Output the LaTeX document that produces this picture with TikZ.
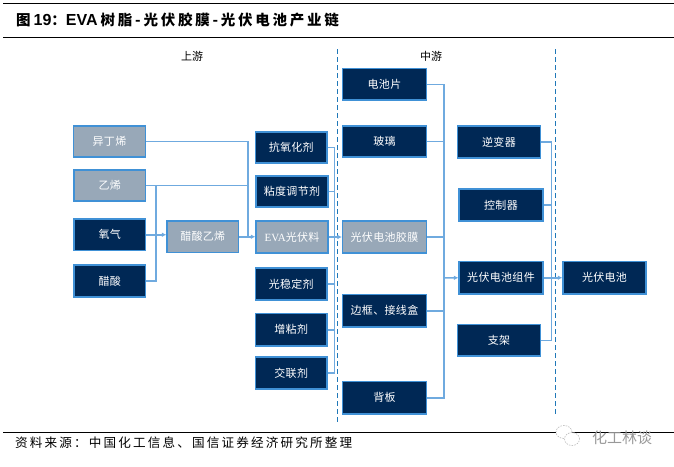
\documentclass[tikz,border=0pt]{standalone}
\usepackage{fontspec}
\setmainfont{Noto Sans CJK SC}
\newfontfamily\latinbold{Liberation Sans}[BoldFont={Liberation Sans Bold}]
\newfontfamily\latinserif{Liberation Serif}
\usetikzlibrary{arrows.meta}
\definecolor{navy}{HTML}{002855}
\definecolor{slate}{HTML}{98A8B8}
\definecolor{edge}{HTML}{4091D6}
\definecolor{wire}{HTML}{6FAADF}
\definecolor{divider}{HTML}{1F78B8}
\tikzset{
  base/.style={draw=edge,line width=1.1pt,inner sep=0pt,text=white,font=\fontsize{11}{12}\selectfont\addfontfeatures{LetterSpace=3}},
  darkbox/.style={base,fill=navy},
  greybox/.style={base,fill=slate},
  wirepath/.style={draw=wire,line width=1.5pt},
  arrowpath/.style={wirepath,-{Latex[length=4.5pt,width=4.5pt]}},
  rulepath/.style={draw=black,line width=1pt},
  dividerpath/.style={draw=divider,line width=1.2pt,dash pattern=on 4.5pt off 3.5pt},
  caption/.style={inner sep=0pt,text=black,font=\fontsize{11}{12}\selectfont},
}
\newcommand{\bx}[7]{\node[#1,minimum width=#5 pt-#3 pt,minimum height=#6 pt-#4 pt] (#2) at ({(#3+#5)/2},{(#4+#6)/2}) {#7};}
\begin{document}
\begin{tikzpicture}[x=1pt,y=-1pt]
\useasboundingbox (0,0) rectangle (674,466);
% rules
\coordinate (r1a) at (3,3.5); \coordinate (r1b) at (674,3.5);
\coordinate (r2a) at (3,37.2); \coordinate (r2b) at (674,37.2);
\coordinate (r3a) at (3,432.3); \coordinate (r3b) at (674,432.3);
\draw[rulepath] (r1a)--(r1b);
\draw[rulepath] (r2a)--(r2b);
\draw[rulepath,line width=.8pt] (r3a)--(r3b);
% dividers
\coordinate (d1a) at (337.5,49); \coordinate (d1b) at (337.5,422);
\coordinate (d2a) at (555.5,49); \coordinate (d2b) at (555.5,417);
\draw[dividerpath] (d1a)--(d1b);
\draw[dividerpath] (d2a)--(d2b);
% texts
\node[anchor=west,inner sep=0pt,font=\fontsize{14.5}{16}\bfseries\selectfont] (title) at (16,20)
  {\addfontfeatures{LetterSpace=19}图\hspace{3pt}{\fontsize{16}{16}\latinbold\bfseries 19}：{\fontsize{16}{16}\latinbold\bfseries EVA}\hspace{3pt}树脂-光伏胶膜-光伏电池产业链};
\node[caption] (up) at (192,56.5) {上游};
\node[caption] (mid) at (431,56.5) {中游};
\node[anchor=west,inner sep=0pt,font=\fontsize{12.6}{14}\selectfont] (src) at (15,442.5)
  {\addfontfeatures{LetterSpace=17}资料来源：中国化工信息、国信证券经济研究所整理};
% upstream
\bx{greybox}{iso}{73.5}{126}{145.5}{157}{异丁烯}
\bx{greybox}{eth}{74}{170}{145.5}{201}{乙烯}
\bx{darkbox}{oxy}{74}{219}{145.5}{250.5}{氧气}
\bx{darkbox}{ace}{74}{265}{145.5}{297}{醋酸}
\bx{greybox}{vac}{167}{221}{238.5}{252.5}{醋酸乙烯}
\bx{darkbox}{anti}{255.5}{132}{327}{163}{抗氧化剂}
\bx{darkbox}{visc}{256}{176}{328}{207}{粘度调节剂}
\bx{greybox}{eva}{256}{221}{328}{253}{{\latinserif EVA}光伏料}
\bx{darkbox}{light}{255.5}{268}{327}{300}{光稳定剂}
\bx{darkbox}{tack}{255.5}{313.5}{327}{346}{增粘剂}
\bx{darkbox}{cross}{255.5}{357}{327}{389}{交联剂}
% midstream
\bx{darkbox}{cell}{342.5}{68.5}{426.5}{100}{电池片}
\bx{darkbox}{glass}{342.5}{126}{426.5}{157}{玻璃}
\bx{greybox}{film}{342.5}{221}{426.5}{253}{光伏电池胶膜}
\bx{darkbox}{frame}{342.5}{294.5}{426.5}{327}{边框、接线盒}
\bx{darkbox}{back}{342.5}{381.5}{426.5}{414}{背板}
\bx{darkbox}{inv}{457.5}{126}{540.5}{158}{逆变器}
\bx{darkbox}{ctrl}{459}{189}{543}{221}{控制器}
\bx{darkbox}{mod}{459}{261.5}{543}{294}{光伏电池组件}
\bx{darkbox}{mount}{457.5}{324.5}{540.5}{356}{支架}
\bx{darkbox}{pv}{563}{261.5}{646}{294}{光伏电池}
% junctions
\coordinate (j1) at (156,236);
\coordinate (j2) at (248,237);
\coordinate (j3) at (334.5,237);
\coordinate (j4) at (444,278);
\coordinate (j5) at (551.3,278);
% connectors: ethylene, oxygen, acetic acid to vinyl acetate
\draw[wirepath] (eth.east) -| (j1);
\draw[wirepath] (ace.east) -| (j1);
\draw[arrowpath] (oxy.east) -- (oxy.east -| vac.west);
% to EVA
\draw[wirepath] (iso.east) -| (j2);
\draw[wirepath,line width=1pt] (eth.east) -| (j2);
\draw[arrowpath] (vac.east) -- (vac.east -| eva.west);
% additives bus
\draw[wirepath] (anti.east) -| (j3);
\draw[wirepath] (visc.east) -| (j3);
\draw[wirepath] (light.east) -| (j3);
\draw[wirepath] (tack.east) -| (j3);
\draw[wirepath] (cross.east) -| (j3);
\draw[arrowpath] (eva.east) -- (eva.east -| film.west);
% middle bus
\draw[wirepath] (cell.east) -| (j4);
\draw[wirepath] (glass.east) -| (j4);
\draw[wirepath] (film.east) -| (j4);
\draw[wirepath] (frame.east) -| (j4);
\draw[wirepath] (back.east) -| (j4);
\draw[arrowpath] (j4) -- (mod.west);
% component bus
\draw[wirepath] (inv.east) -| (j5);
\draw[wirepath] (ctrl.east) -| (j5);
\draw[wirepath] (mount.east) -| (j5);
\draw[arrowpath] (mod.east) -- (pv.west);
% watermark
\begin{scope}[draw=gray!55,line width=.6pt,dash pattern=on 1.5pt off 1.2pt]
\draw[fill=white] (564,432) ellipse (8pt and 6.5pt);
\draw[fill=white] (572,439) ellipse (7.5pt and 6.5pt);
\end{scope}
\node[inner sep=0pt,text=gray!80,font=\fontsize{15}{16}\selectfont] (wm) at (622,437.5) {化工林谈};
\end{tikzpicture}
\end{document}
